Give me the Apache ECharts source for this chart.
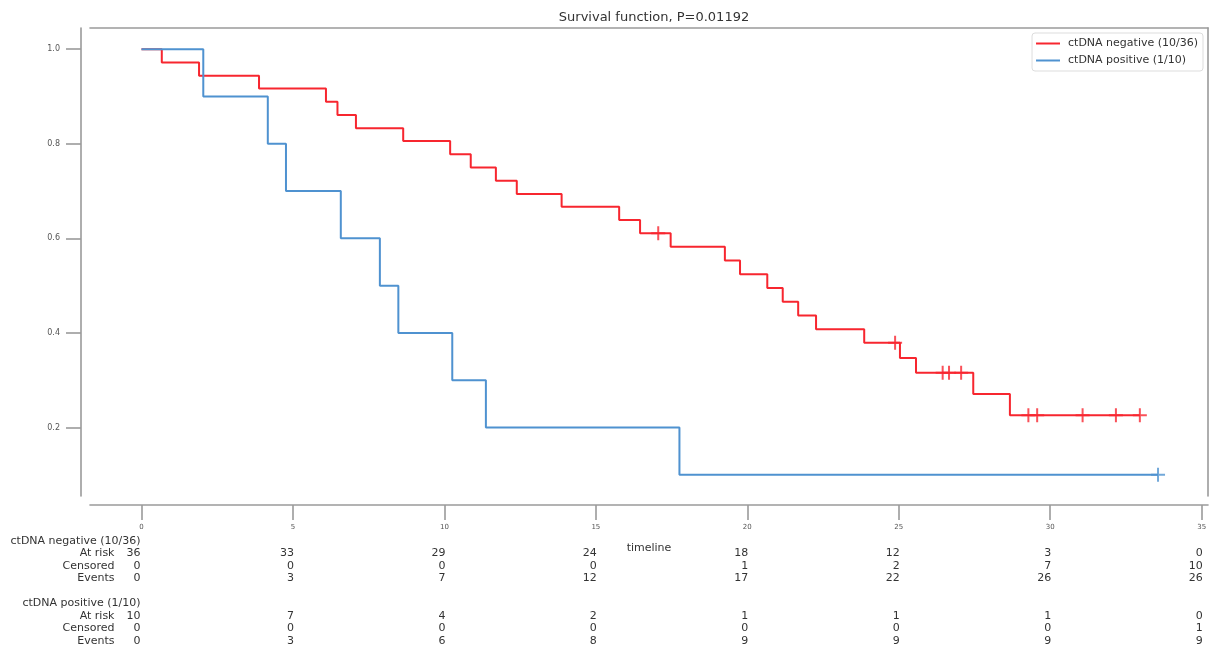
<!DOCTYPE html>
<html>
<head>
<meta charset="utf-8">
<script src="https://cdn.jsdelivr.net/npm/echarts@6/dist/echarts.min.js"></script>
<style>
html,body{margin:0;padding:0;background:#fff;}
#chart{width:1210px;height:649px;}
</style>
</head>
<body>
<div id="chart"></div>
<script>
// ---- data ----
const titleText = "Survival function, P=0.01192";
const negName = "ctDNA negative (10/36)";
const posName = "ctDNA positive (1/10)";

// Kaplan-Meier steps (time, survival after step)
const negTimes = [0, 0.67, 1.90, 3.88, 6.09, 6.47, 7.08, 8.64, 10.19, 10.87, 11.70, 12.39, 13.87, 15.77, 16.46, 17.47, 19.26, 19.76, 20.66, 21.17, 21.68, 22.27, 23.86, 25.04, 25.57, 27.46, 28.67, 32.96];
const negSurv  = [1.0, 0.972, 0.944, 0.917, 0.889, 0.861, 0.833, 0.806, 0.778, 0.750, 0.722, 0.694, 0.667, 0.639, 0.611, 0.582, 0.553, 0.524, 0.495, 0.466, 0.437, 0.408, 0.379, 0.347, 0.316, 0.271, 0.226, 0.226];
const negCensorTimes = [17.06, 24.88, 26.45, 26.66, 27.06, 29.28, 29.57, 31.07, 32.17, 32.96];
const negCensorSurv  = [0.611, 0.379, 0.316, 0.316, 0.316, 0.226, 0.226, 0.226, 0.226, 0.226];

const posTimes = [0, 2.04, 4.17, 4.77, 6.58, 7.87, 8.48, 10.26, 11.37, 17.76, 33.56];
const posSurv  = [1.0, 0.9, 0.8, 0.7, 0.6, 0.5, 0.4, 0.3, 0.2, 0.1, 0.1];
const posCensorTimes = [33.56];
const posCensorSurv  = [0.1];

const xTicks = [0, 5, 10, 15, 20, 25, 30, 35];
const yTicks = [0.2, 0.4, 0.6, 0.8, 1.0];

// at-risk table
const negAtRisk   = [36, 33, 29, 24, 18, 12, 3, 0];
const negCensored = [0, 0, 0, 0, 1, 2, 7, 10];
const negEvents   = [0, 3, 7, 12, 17, 22, 26, 26];
const posAtRisk   = [10, 7, 4, 2, 1, 1, 1, 0];
const posCensored = [0, 0, 0, 0, 0, 0, 0, 1];
const posEvents   = [0, 3, 6, 8, 9, 9, 9, 9];
const rowNames = ["At risk", "Censored", "Events"];

// ---- chart ----
const FONT = "DejaVu Sans";
const RED = "#f7262f";
const BLUE = "#4f92d0";
const SPINE = "#9a9a9a";
const XMIN = -1.70, XMAX = 35.21, YMIN = 0.0552, YMAX = 1.0448;

const zip = (a, b) => a.map((v, i) => [v, b[i]]);
const plusPath = 'path://M-1,-7L1,-7L1,-1L7,-1L7,1L1,1L1,7L-1,7L-1,1L-7,1L-7,-1L-1,-1Z';

const chart = echarts.init(document.getElementById('chart'), null, {renderer: 'canvas'});

const option = {
  animation: false,
  backgroundColor: '#fff',
  textStyle: {fontFamily: FONT},
  title: {
    text: titleText, left: 649, top: 6, textAlign: 'center',
    textStyle: {fontFamily: FONT, fontSize: 13, fontWeight: 'normal', color: '#333'}
  },
  legend: {
    right: 7, top: 33, orient: 'vertical',
    data: [negName, posName],
    icon: 'rect', itemWidth: 24, itemHeight: 2, itemGap: 4,
    padding: [4, 5, 4, 4],
    borderColor: '#dddddd', borderWidth: 1, borderRadius: 3,
    backgroundColor: '#fff',
    textStyle: {fontFamily: FONT, fontSize: 11, color: '#333', lineHeight: 13, padding: [0, 0, 0, 3]}
  },
  grid: {left: 90, right: 2, top: 28, bottom: 153, containLabel: false},
  xAxis: [{
    type: 'value', min: XMIN, max: XMAX, position: 'bottom', offset: 9,
    name: 'timeline', nameLocation: 'middle', nameGap: 38,
    nameTextStyle: {fontFamily: FONT, fontSize: 11, color: '#333'},
    axisLine: {show: true, onZero: false, lineStyle: {color: SPINE, width: 1.6}},
    axisTick: {show: true, customValues: xTicks, length: 15, lineStyle: {color: SPINE, width: 1.6}},
    axisLabel: {show: true, customValues: xTicks, margin: 19, fontFamily: FONT, fontSize: 7, color: '#555'},
    splitLine: {show: false}
  }, {
    type: 'value', min: XMIN, max: XMAX, position: 'top',
    axisLine: {show: true, onZero: false, lineStyle: {color: SPINE, width: 1.6}},
    axisTick: {show: false}, axisLabel: {show: false}, splitLine: {show: false}
  }],
  yAxis: [{
    type: 'value', min: YMIN, max: YMAX, position: 'left', offset: 9,
    axisLine: {show: true, onZero: false, lineStyle: {color: SPINE, width: 1.6}},
    axisTick: {show: true, customValues: yTicks, length: 15, lineStyle: {color: SPINE, width: 1.6}},
    axisLabel: {show: true, customValues: yTicks, margin: 21, fontFamily: FONT, fontSize: 8, color: '#555',
      formatter: v => v.toFixed(1)},
    splitLine: {show: false}
  }, {
    type: 'value', min: YMIN, max: YMAX, position: 'right',
    axisLine: {show: true, onZero: false, lineStyle: {color: SPINE, width: 1.6}},
    axisTick: {show: false}, axisLabel: {show: false}, splitLine: {show: false}
  }],
  series: [{
    name: negName, type: 'line', step: 'end', data: zip(negTimes, negSurv),
    showSymbol: false, symbol: 'none', lineStyle: {color: RED, width: 2}, itemStyle: {color: RED}, z: 2
  }, {
    name: negName + ' censored', type: 'scatter', data: zip(negCensorTimes, negCensorSurv),
    symbol: plusPath, symbolSize: 14, itemStyle: {color: RED}, z: 3
  }, {
    name: posName, type: 'line', step: 'end', data: zip(posTimes, posSurv),
    showSymbol: false, symbol: 'none', lineStyle: {color: BLUE, width: 2}, itemStyle: {color: BLUE}, z: 4
  }, {
    name: posName + ' censored', type: 'scatter', data: zip(posCensorTimes, posCensorSurv),
    symbol: plusPath, symbolSize: 14, itemStyle: {color: BLUE}, z: 5
  }]
};
chart.setOption(option);

// ---- at-risk table as text under the axis ----
const rowYs = {
  negHead: 541, neg: [553.5, 566, 578.5],
  posHead: 603, pos: [616, 628.5, 641]
};
const txtStyle = (text, x, y, align) => ({
  type: 'text', x: x, y: y,
  style: {text: String(text), fontFamily: FONT, fontSize: 11, fill: '#333', align: align, verticalAlign: 'middle'}
});
const els = [];
const x0 = chart.convertToPixel({xAxisIndex: 0}, xTicks[0]);
els.push(txtStyle(negName, x0 - 1, rowYs.negHead, 'right'));
els.push(txtStyle(posName, x0 - 1, rowYs.posHead, 'right'));
rowNames.forEach((r, i) => {
  els.push(txtStyle(r, x0 - 27, rowYs.neg[i], 'right'));
  els.push(txtStyle(r, x0 - 27, rowYs.pos[i], 'right'));
});
const negRows = [negAtRisk, negCensored, negEvents];
const posRows = [posAtRisk, posCensored, posEvents];
xTicks.forEach((t, j) => {
  const px = chart.convertToPixel({xAxisIndex: 0}, t) + (j === 0 ? -1 : 1);
  negRows.forEach((row, i) => els.push(txtStyle(row[j], px, rowYs.neg[i], 'right')));
  posRows.forEach((row, i) => els.push(txtStyle(row[j], px, rowYs.pos[i], 'right')));
});
chart.setOption({graphic: {elements: els}});
</script>
</body>
</html>
